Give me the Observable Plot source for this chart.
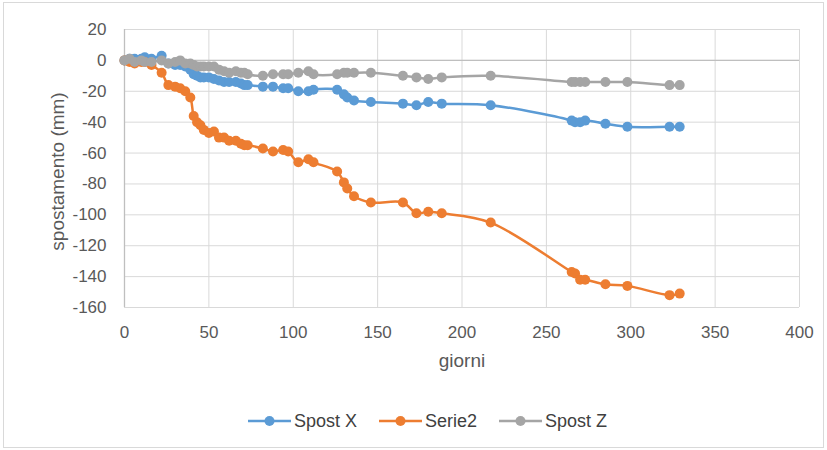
<!DOCTYPE html>
<html>
<head>
<meta charset="utf-8">
<script src="https://cdn.jsdelivr.net/npm/d3@7"></script>
<script src="https://cdn.jsdelivr.net/npm/@observablehq/plot@0.6"></script>
<style>
  html, body { margin: 0; padding: 0; background: #fff; }
  #wrap { position: relative; width: 827px; height: 450px; overflow: hidden; }
  #frame { position: absolute; left: 3px; top: 2px; width: 821px; height: 446px; border: 1px solid #d9d9d9; box-sizing: border-box; }
  #chart { position: absolute; left: 0; top: 0; }
  #legend { position: absolute; left: 28px; top: 407px; width: 799px; display: flex; justify-content: center; gap: 22px; font-family: "Liberation Sans", Arial, sans-serif; font-size: 18px; color: #404040; line-height: 28px; }
  .item { display: flex; align-items: center; gap: 3px; }
</style>
</head>
<body>
<div id="wrap">
  <div id="frame"></div>
  <div id="chart"></div>
  <div id="legend"></div>
</div>
<script>
const days = [0, 3, 6, 10, 12, 16, 22, 26, 30, 33, 36, 39, 41, 43, 45, 47, 50, 53, 56, 59, 62, 66, 69, 71, 73, 82, 88, 94, 97, 103, 109, 112, 126, 130, 132, 136, 146, 165, 173, 180, 188, 217, 265, 267, 270, 273, 285, 298, 323, 329];
const spostX = [0, 1, 1, 1, 2, 1, 3, -2, -3, -3, -4, -6, -9, -10, -11, -11, -11, -12, -13, -14, -14, -14, -15, -16, -16, -17, -17, -18, -18, -20, -20, -19, -19, -22, -24, -26, -27, -28, -29, -27, -28, -29, -39, -40, -40, -39, -41, -43, -43, -43];
const serie2 = [0, -1, -2, -1, -1, -3, -8, -16, -17, -18, -20, -24, -36, -40, -42, -45, -47, -46, -50, -50, -52, -52, -54, -55, -55, -57, -59, -58, -59, -66, -64, -66, -72, -79, -83, -88, -92, -92, -99, -98, -99, -105, -137, -138, -142, -142, -145, -146, -152, -151];
const spostZ = [0, 1, -1, 0, -1, -1, 0, -2, -1, 0, -2, -2, -3, -4, -4, -4, -4, -4, -6, -7, -8, -7, -8, -8, -9, -10, -9, -9, -9, -8, -7, -9, -9, -8, -8, -8, -8, -10, -11, -12, -11, -10, -14, -14, -14, -14, -14, -14, -16, -16];
const seriesNames = ["Spost X", "Serie2", "Spost Z"];
const seriesColors = ["#5b9bd5", "#ed7d31", "#a5a5a5"];
const xTicks = [0, 50, 100, 150, 200, 250, 300, 350, 400];
const yTicks = [20, 0, -20, -40, -60, -80, -100, -120, -140, -160];
const xTitle = "giorni";
const yTitle = "spostamento (mm)";

const seriesValues = [spostX, serie2, spostZ];
const data = seriesValues.flatMap((vals, i) => days.map((d, j) => ({series: seriesNames[i], day: d, value: vals[j]})));

const marks = [
  Plot.gridX(xTicks, {stroke: "#d9d9d9", strokeOpacity: 1}),
  Plot.gridY(yTicks, {stroke: "#d9d9d9", strokeOpacity: 1}),
  Plot.ruleY([0], {stroke: "#bfbfbf", strokeWidth: 1.3}),
  Plot.ruleX([0], {stroke: "#bfbfbf", strokeWidth: 1.3}),
  Plot.axisX(xTicks, {tickSize: 0, tickPadding: 18, label: null, fontSize: 17, tickFormat: d => String(d)}),
  Plot.axisY(yTicks, {tickSize: 0, tickPadding: 18, label: null, fontSize: 17, tickFormat: d => String(d)}),
  Plot.text([xTitle], {frameAnchor: "bottom", dy: 53, lineAnchor: "middle", textAnchor: "middle", fontSize: 19, fill: "#595959"}),
  Plot.text([yTitle], {frameAnchor: "left", dx: -67, dy: 3, rotate: -90, textAnchor: "middle", lineAnchor: "middle", fontSize: 19, fill: "#595959"})
];
seriesNames.forEach((name, i) => {
  const sub = data.filter(d => d.series === name);
  marks.push(Plot.line(sub, {x: "day", y: "value", stroke: seriesColors[i], strokeWidth: 2.5, curve: "catmull-rom"}));
  marks.push(Plot.dot(sub, {x: "day", y: "value", fill: seriesColors[i], r: 5}));
});

const chart = Plot.plot({
  width: 827,
  height: 385,
  marginLeft: 124,
  marginRight: 28,
  marginTop: 29,
  marginBottom: 78,
  style: {fontFamily: "'Liberation Sans', Arial, sans-serif", fontSize: "17px", color: "#595959", background: "transparent"},
  x: {domain: [0, 400]},
  y: {domain: [-160, 20]},
  marks
});
document.getElementById("chart").appendChild(chart);

const legend = document.getElementById("legend");
seriesNames.forEach((name, i) => {
  const item = document.createElement("div");
  item.className = "item";
  item.innerHTML = `<svg width="43" height="12"><line x1="0" y1="6" x2="43" y2="6" stroke="${seriesColors[i]}" stroke-width="2.5"/><circle cx="21.5" cy="6" r="5" fill="${seriesColors[i]}"/></svg><span>${name}</span>`;
  legend.appendChild(item);
});
</script>
</body>
</html>
